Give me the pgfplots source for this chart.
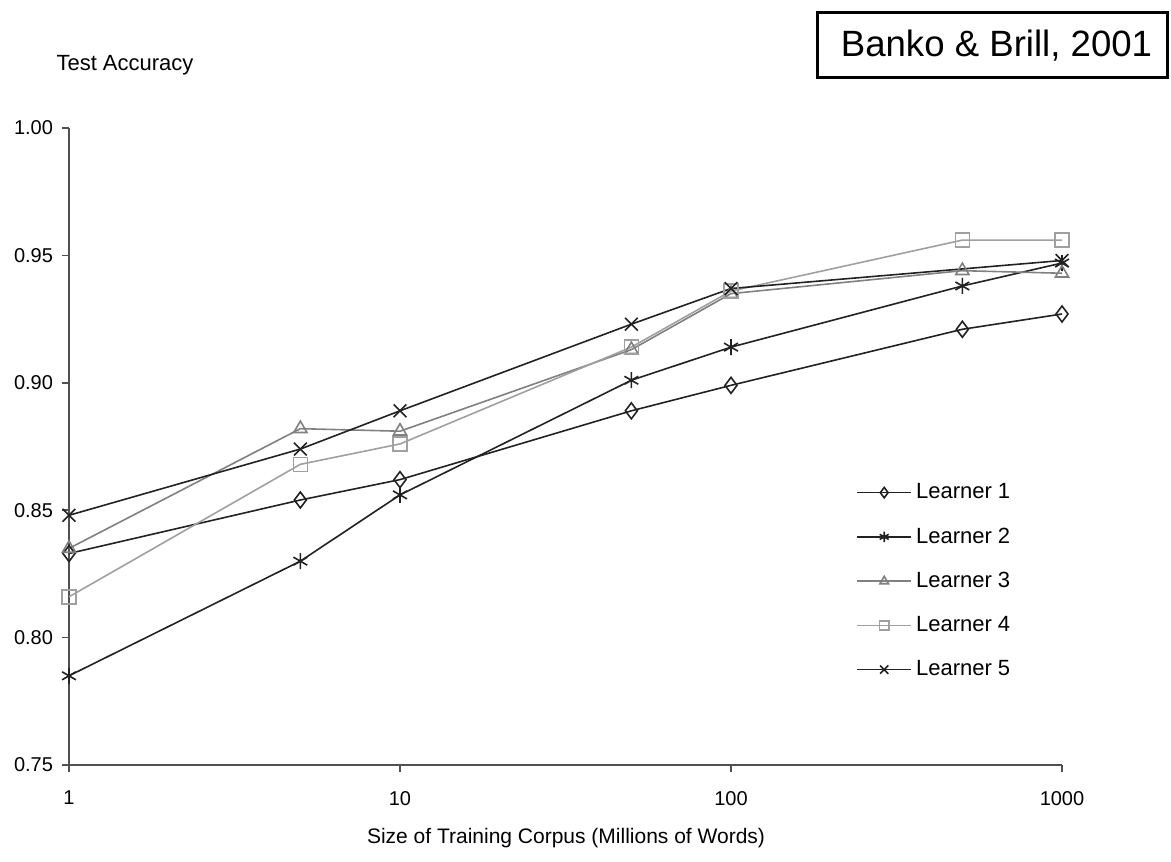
\documentclass[border=0pt]{standalone}
\usepackage{fontspec}
\setmainfont{Liberation Sans}
\usepackage{pgfplots}
\pgfplotsset{compat=1.18}
\definecolor{axgray}{HTML}{505050}
\definecolor{dk}{HTML}{222222}
\definecolor{gthree}{HTML}{808080}
\definecolor{gfour}{HTML}{A0A0A0}
\begin{document}
\begin{tikzpicture}
\begin{axis}[
  at={(0pt,0pt)}, anchor=south west,
  scale only axis, width=496.5pt, height=318.5pt,
  xmode=log, xmin=1, xmax=1000, ymin=0.75, ymax=1.0,
  axis x line*=bottom, axis y line*=left,
  axis line style={axgray, line width=0.8pt},
  xtick={1,10,100,1000}, xticklabels={1,10,100,1000},
  xminorticks=false,
  ytick={0.75,0.80,0.85,0.90,0.95,1.00},
  tick align=outside, major tick length=3.5pt,
  tick style={axgray, line width=0.8pt},
  yticklabel style={xshift=-1pt, /pgf/number format/.cd, fixed, fixed zerofill, precision=2},
  /pgf/number format/assume math mode=true,
  ticklabel style={font=\fontsize{10}{12}\selectfont},
  xticklabel style={yshift=-6pt},
  clip=false,
  legend cell align=left,
  legend style={draw=none, fill=none, at={(0.7865,0.455)}, anchor=north west,
    font=\fontsize{11}{12}\selectfont, row sep=9pt,
    nodes={inner xsep=2pt}},
  legend image code/.code={\draw[mark repeat=2,mark phase=2, every mark/.append style={scale=0.65}] plot coordinates {(0cm,0cm)(0.475cm,0cm)(0.95cm,0cm)};},
]
\addplot[dk, line width=0.8pt, mark=diamond, mark size=4pt, mark options={solid, line width=0.8pt}]
  coordinates {(1,0.833) (5,0.854) (10,0.862) (50,0.889) (100,0.899) (500,0.921) (1000,0.927)};
\addlegendentry{Learner 1}
\addplot[dk, line width=0.8pt, mark=asterisk, mark size=4pt, mark options={solid, line width=0.8pt}]
  coordinates {(1,0.785) (5,0.830) (10,0.856) (50,0.901) (100,0.914) (500,0.938) (1000,0.947)};
\addlegendentry{Learner 2}
\addplot[gthree, line width=0.8pt, mark=triangle, mark size=3.8pt, mark options={solid, line width=0.8pt}]
  coordinates {(1,0.835) (5,0.882) (10,0.881) (50,0.913) (100,0.935) (500,0.944) (1000,0.943)};
\addlegendentry{Learner 3}
\addplot[gfour, line width=0.8pt, mark=square, mark size=3.5pt, mark options={solid, line width=0.8pt}]
  coordinates {(1,0.816) (5,0.868) (10,0.876) (50,0.914) (100,0.936) (500,0.956) (1000,0.956)};
\addlegendentry{Learner 4}
\addplot[dk, line width=0.8pt, mark=x, mark size=4.5pt, mark options={solid, line width=0.8pt}]
  coordinates {(1,0.848) (5,0.874) (10,0.889) (50,0.923) (100,0.937) (1000,0.948)};
\addlegendentry{Learner 5}
\end{axis}
\node[font=\fontsize{11}{13}\selectfont] at (28pt,350pt) {Test Accuracy};
\node[font=\fontsize{10.5}{13}\selectfont] at (248.5pt,-36.5pt) {Size of Training Corpus (Millions of Words)};
\draw[black, line width=1.5pt] (374pt,343.5pt) rectangle (549pt,376pt);
\node[anchor=base, inner sep=0pt, font=\fontsize{18.3}{22}\selectfont] at (463.75pt,354pt) {Banko \& Brill, 2001};
\pgfresetboundingbox
\path[use as bounding box] (-34.5pt,-48pt) rectangle (551pt,382.5pt);
\end{tikzpicture}
\end{document}
